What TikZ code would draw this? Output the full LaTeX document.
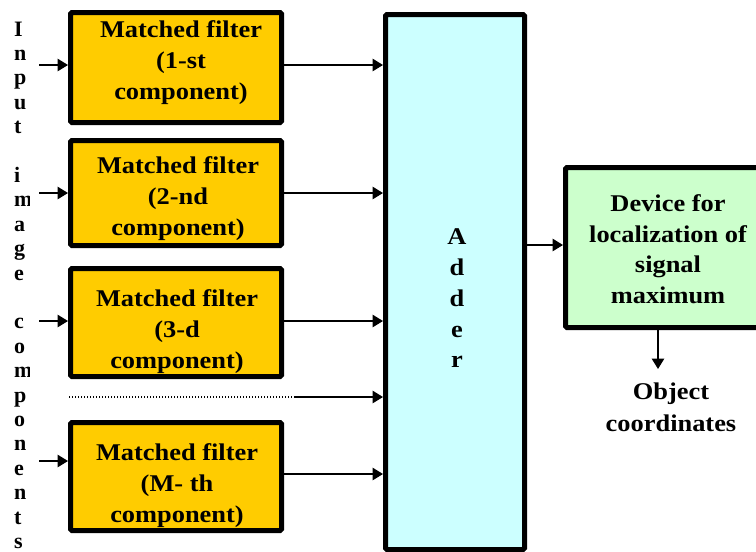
\documentclass[tikz,border=0pt]{standalone}
\usepackage{fontspec}
\setmainfont{Liberation Serif}
\newfontfamily\widefont{Liberation Serif}[FakeStretch=1.1]
\usetikzlibrary{arrows.meta}
\definecolor{fyel}{HTML}{FFCC00}
\definecolor{acyan}{HTML}{CCFFFF}
\definecolor{dgreen}{HTML}{CCFFCC}
\begin{document}
\begin{tikzpicture}[x=1pt,y=-1pt,
  blk/.style={draw=black, line width=5pt, rounded corners=1.5pt, inner sep=0pt},
  fblk/.style={blk, fill=fyel, minimum width=211pt},
  txt/.style={font=\widefont\bfseries\fontsize{24}{31}\selectfont, align=center, inner sep=0pt},
  arr/.style={line width=1.5pt, -{Triangle[length=10.5pt,width=12.5pt]}},
  dotline/.style={line width=1.2pt, dash pattern=on 1pt off 2pt},
]
\useasboundingbox (0,0) rectangle (756,552);
\clip (0,0) rectangle (756,552);

% blocks
\node[fblk, minimum height=110pt] (f1) at (176,67.5) {};
\node[fblk, minimum height=105pt] (f2) at (176,193) {};
\node[fblk, minimum height=108pt] (f3) at (176,322.5) {};
\node[fblk, minimum height=108pt] (fM) at (176,476.5) {};
\node[blk, fill=acyan, minimum width=139pt, minimum height=535pt] (add) at (455,282) {};
\node[blk, fill=dgreen, minimum width=212pt, minimum height=160pt] (dev) at (671.5,247.5) {};

% texts
\node[txt] (t1) at (181,62.3) {Matched filter\\(1-st\\component)};
\node[txt] (t2) at (178,198.3) {Matched filter\\(2-nd\\component)};
\node[txt] (t3) at (177,331.3) {Matched filter\\(3-d\\component)};
\node[txt] (tM) at (177,485.3) {Matched filter\\(M- th\\component)};
\node[txt, font=\widefont\bfseries\fontsize{24}{30.8}\selectfont] (addt) at (457,298.4) {A\\d\\d\\e\\r};
\node[txt, font=\widefont\bfseries\fontsize{24}{30.5}\selectfont] (devt) at (668,249) {Device for\\localization of\\signal\\maximum};
\node[txt, font=\widefont\bfseries\fontsize{24}{31.7}\selectfont] (obj) at (671,407.5) {Object\\coordinates};

\begin{scope}
\clip (0,0) rectangle (29,552);
\node[font=\bfseries\fontsize{22}{24.4}\selectfont, align=left, inner sep=0pt, anchor=north west] (inp) at (14,21.4)
 {I\\n\\p\\u\\t\\\mbox{}\\i\\m\\a\\g\\e\\\mbox{}\\c\\o\\m\\p\\o\\n\\e\\n\\t\\s};
\end{scope}

% connectors
\coordinate (i1) at (39,65);
\coordinate (i2) at (39,193);
\coordinate (i3) at (39,321);
\coordinate (iM) at (39,461);
\coordinate (oM) at (300,474);
\draw[arr] (i1) -- (i1 -| f1.west);
\draw[arr] (i2) -- (i2 -| f2.west);
\draw[arr] (i3) -- (i3 -| f3.west);
\draw[arr] (iM) -- (iM -| fM.west);
\draw[arr] (f1.east |- i1) -- (add.west |- i1);
\draw[arr] (f2.east |- i2) -- (add.west |- i2);
\draw[arr] (f3.east |- i3) -- (add.west |- i3);
\draw[arr] (fM.east |- oM) -- (add.west |- oM);
\coordinate (d0) at (69,397);
\coordinate (d1) at (295,397);
\draw[dotline] (d0) -- (d1);
\draw[arr] (d1) -- (d1 -| add.west);
\coordinate (ad) at (540,245);
\draw[arr] (add.east |- ad) -- (dev.west |- ad);
\coordinate (oc) at (658,369);
\draw[arr] (dev.south -| oc) -- (oc);
\end{tikzpicture}
\end{document}
